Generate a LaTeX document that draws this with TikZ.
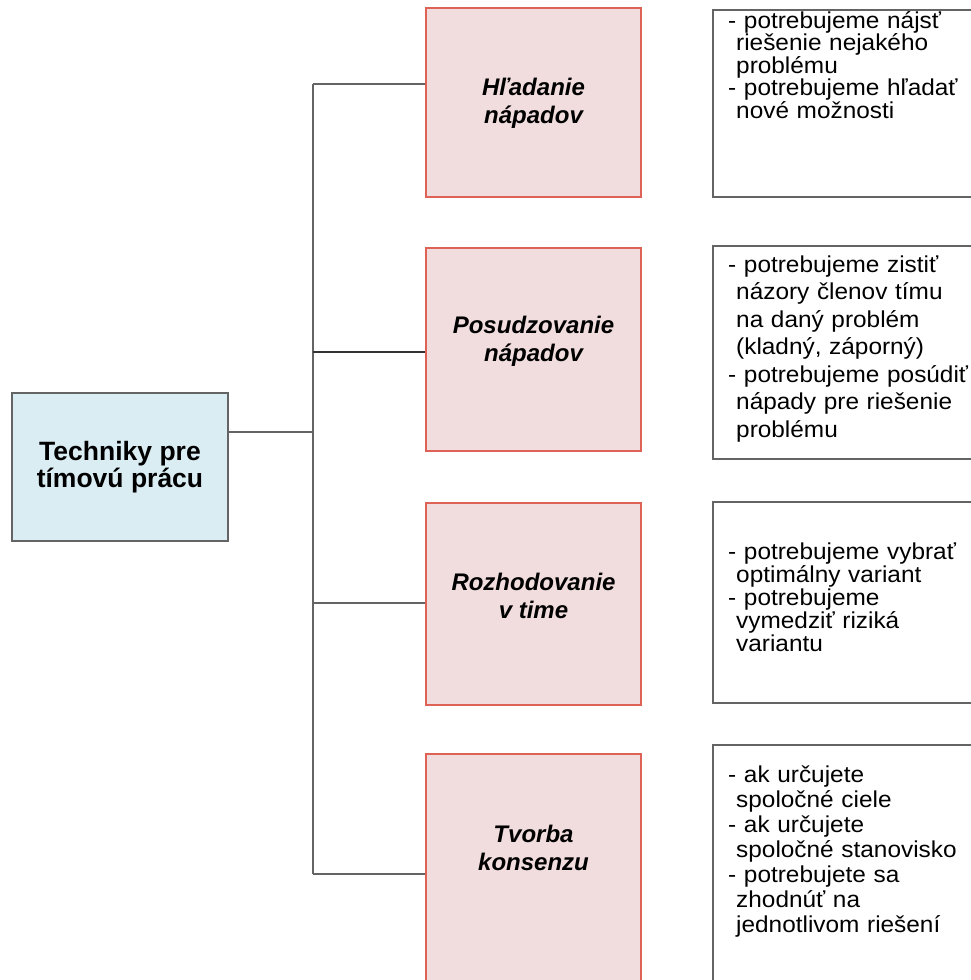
\documentclass[tikz,border=0pt]{standalone}
\usepackage{fontspec}
\setmainfont{Liberation Sans}
\newfontfamily\notefamily[FakeStretch=1.06]{Liberation Sans}
\definecolor{rootblue}{RGB}{218, 237, 243}
\definecolor{ideapink}{RGB}{242, 221, 222}
\definecolor{ideared}{RGB}{222, 98, 86}
\definecolor{linegray}{RGB}{100, 100, 100}
\usetikzlibrary{positioning, calc}
\newcommand{\notebreak}{\\\hspace*{8pt}}
\newcommand{\notefont}[1]{\notefamily\fontsize{23}{#1}\selectfont\lineskiplimit=-100pt}

\begin{document}
\begin{tikzpicture}[x=1pt, y=-1pt,
  rootbox/.style={draw=linegray, fill=rootblue, line width=2pt, minimum width=216pt, minimum height=148pt, inner sep=0pt, align=center, font=\fontsize{26.5}{27}\selectfont\bfseries},
  ideabox/.style={draw=ideared, fill=ideapink, line width=2pt, minimum width=215pt, inner sep=0pt},
  ideatext/.style={inner sep=0pt, align=center, font=\fontsize{24}{28}\selectfont\bfseries\itshape},
  notebox/.style={draw=linegray, line width=2pt, minimum width=277pt, inner sep=0pt},
  notetext/.style={anchor=base west, inner sep=0pt, text width=250pt, align=left},
  link/.style={draw=linegray, line width=2pt}]
  \useasboundingbox (0,0) rectangle (971,980);
  \clip (0,0) rectangle (971,980);

  % Root
  \node[rootbox] (root) at (120, 467) {Techniky pre\\tímovú prácu};

  % Techniques
  \node[ideabox, minimum height=189pt] (hladanie) at (533.5, 102.5) {};
  \node[ideabox, minimum height=203pt] (posudzovanie) at (533.5, 349.5) {};
  \node[ideabox, minimum height=202pt] (rozhodovanie) at (533.5, 604) {};
  \node[ideabox, minimum height=250pt] (tvorba) at (533.5, 879) {};

  \node[ideatext] (hladanieT) at (533.5, 103) {Hľadanie\\nápadov};
  \node[ideatext] (posudzovanieT) at (533.5, 341) {Posudzovanie\\nápadov};
  \node[ideatext] (rozhodovanieT) at (533.5, 596) {Rozhodovanie\\v time};
  \node[ideatext] (tvorbaT) at (533.5, 848) {Tvorba\\konsenzu};

  % Notes
  \node[notebox, minimum height=187pt] (hladanieN) at (851.5, 103.5) {};
  \node[notebox, minimum height=213pt] (posudzovanieN) at (851.5, 352.5) {};
  \node[notebox, minimum height=201pt] (rozhodovanieN) at (851.5, 602.5) {};
  \node[notebox, minimum height=255pt] (tvorbaN) at (851.5, 872.5) {};

  \node[notetext, font=\notefont{22.5}] (hladanieL) at (728, 28)
    {- potrebujeme nájsť\notebreak riešenie nejakého\notebreak problému\\- potrebujeme hľadať\notebreak nové možnosti};
  \node[notetext, font=\notefont{27.5}] (posudzovanieL) at (728, 272)
    {- potrebujeme zistiť\notebreak názory členov tímu\notebreak na daný problém\notebreak (kladný, záporný)\\- potrebujeme posúdiť\notebreak nápady pre riešenie\notebreak problému};
  \node[notetext, font=\notefont{23}] (rozhodovanieL) at (728, 559)
    {- potrebujeme vybrať\notebreak optimálny variant\\- potrebujeme\notebreak vymedziť riziká\notebreak variantu};
  \node[notetext, font=\notefont{25}] (tvorbaL) at (728, 782)
    {- ak určujete\notebreak spoločné ciele\\- ak určujete\notebreak spoločné stanovisko\\- potrebujete sa\notebreak zhodnúť na\notebreak jednotlivom riešení};

  % Connectors
  \coordinate (j1) at (313, 84);
  \coordinate (j2) at (313, 352);
  \coordinate (j0) at (313, 432);
  \coordinate (j3) at (313, 603);
  \coordinate (j4) at (313, 874);
  \draw[link] (j1) -- (j4);
  \draw[link] (j0) -- (j0 -| root.east);
  \draw[link] (j1) -- (j1 -| hladanie.west);
  \draw[link, draw=black!80] (j2) -- (j2 -| posudzovanie.west);
  \draw[link] (j3) -- (j3 -| rozhodovanie.west);
  \draw[link] (j4) -- (j4 -| tvorba.west);
\end{tikzpicture}
\end{document}
